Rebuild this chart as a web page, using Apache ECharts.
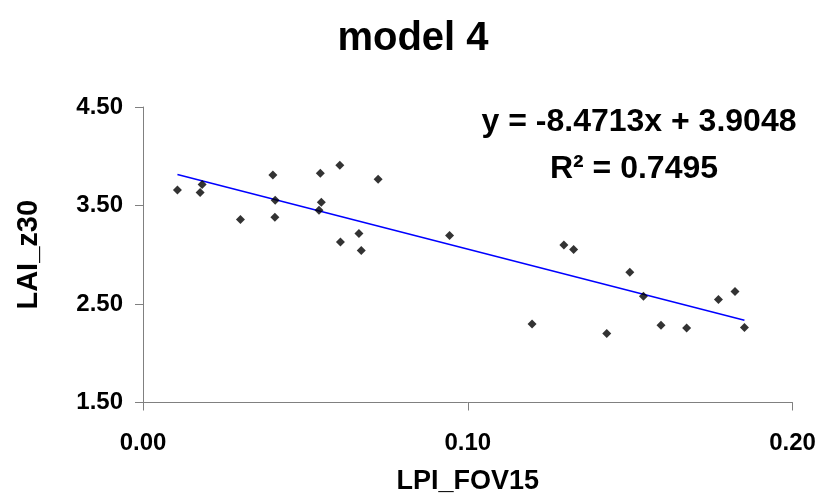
<!DOCTYPE html>
<html>
<head>
<meta charset="utf-8">
<script src="https://cdn.jsdelivr.net/npm/echarts@6/dist/echarts.min.js"></script>
<style>
  html, body { margin: 0; padding: 0; background: #fff; }
  #chart { width: 821px; height: 493px; }
</style>
</head>
<body>
<div id="chart"></div>
<script>
// LPI_FOV15 values
const lpi = [0.0106, 0.0182, 0.0176, 0.0300, 0.0400, 0.0407, 0.0406, 0.0546, 0.0549,
  0.0542, 0.0606, 0.0608, 0.0665, 0.0672, 0.0724, 0.0944, 0.1198, 0.1296, 0.1326,
  0.1428, 0.1499, 0.1541, 0.1595, 0.1674, 0.1772, 0.1823, 0.1852];
// LAI_z30 values
const lai = [3.658, 3.713, 3.631, 3.357, 3.810, 3.553, 3.381, 3.827, 3.533,
  3.452, 3.908, 3.130, 3.215, 3.043, 3.766, 3.195, 2.298, 3.100, 3.053,
  2.200, 2.822, 2.579, 2.285, 2.257, 2.545, 2.627, 2.261];
// trend line from the chart's equation
const slope = -8.4713;
const intercept = 3.9048;
const r2 = 0.7495;
const yTicks = [1.5, 2.5, 3.5, 4.5];
const xTicks = [0, 0.1, 0.2];

window.onload = () => {
    let chart = echarts.init(document.getElementById('chart'));
    const font = "'Liberation Sans', Arial, sans-serif";
    let points = lpi.map((x, i) => [x, lai[i]]);
    let x0 = Math.min(...lpi), x1 = Math.max(...lpi);
    let trend = [[x0, slope * x0 + intercept], [x1, slope * x1 + intercept]];

    let option = {
        animation: false,
        title: {
            text: 'model 4',
            left: 408,
            textAlign: 'center',
            top: 14,
            textStyle: { fontFamily: font, fontSize: 40, fontWeight: 'bold', color: '#000' }
        },
        grid: { left: 143, right: 28.5, top: 107, bottom: 90.5, outerBoundsMode: 'none', containLabel: false },
        xAxis: {
            type: 'value',
            min: 0, max: 0.2, interval: 0.1,
            name: 'LPI_FOV15',
            nameLocation: 'middle',
            nameGap: 66,
            nameTextStyle: { fontFamily: font, fontSize: 27, fontWeight: 'bold', color: '#000' },
            axisLine: { lineStyle: { color: '#808080', width: 1 } },
            axisTick: { show: true, length: 8, lineStyle: { color: '#808080' }, customValues: xTicks },
            axisLabel: {
                customValues: xTicks,
                margin: 29,
                fontFamily: font, fontSize: 24, fontWeight: 'bold', color: '#000',
                formatter: v => v.toFixed(2)
            },
            splitLine: { show: false }
        },
        yAxis: {
            type: 'value',
            min: 1.5, max: 4.5,
            name: 'LAI_z30',
            nameLocation: 'middle',
            nameRotate: 90,
            nameGap: 100,
            nameTextStyle: { fontFamily: font, fontSize: 29, fontWeight: 'bold', color: '#000' },
            axisLine: { show: true, lineStyle: { color: '#808080', width: 1 } },
            axisTick: { show: true, length: 8, lineStyle: { color: '#808080' }, customValues: yTicks },
            axisLabel: {
                customValues: yTicks,
                margin: 20,
                fontFamily: font, fontSize: 24, fontWeight: 'bold', color: '#000',
                formatter: v => v.toFixed(2)
            },
            splitLine: { show: false }
        },
        graphic: [
            {
                type: 'text',
                style: {
                    text: 'y = ' + slope + 'x + ' + intercept.toFixed(4),
                    x: 639, y: 122,
                    align: 'center', verticalAlign: 'middle',
                    font: 'bold 32px ' + font, fill: '#000'
                }
            },
            {
                type: 'text',
                style: {
                    text: 'R\u00b2 = ' + r2.toFixed(4),
                    x: 634, y: 169,
                    align: 'center', verticalAlign: 'middle',
                    font: 'bold 32px ' + font, fill: '#000'
                }
            }
        ],
        series: [
            {
                type: 'scatter',
                data: points,
                symbol: 'diamond',
                symbolSize: 9,
                itemStyle: { color: '#000' },
                z: 3
            },
            {
                type: 'line',
                data: trend,
                symbol: 'none',
                lineStyle: { color: '#0000ff', width: 1.5 },
                z: 2
            }
        ]
    };
    chart.setOption(option);
};
</script>
</body>
</html>
